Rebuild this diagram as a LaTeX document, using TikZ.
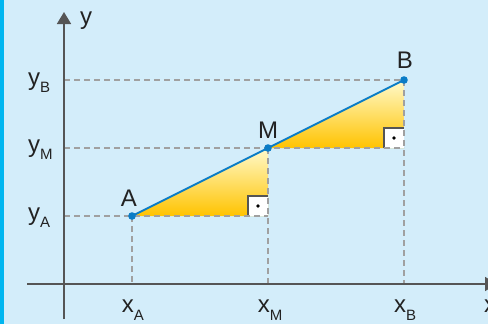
\documentclass[tikz,border=0pt]{standalone}
\usepackage{fontspec}
\setmainfont{Liberation Sans}
\usetikzlibrary{arrows.meta,calc}
\definecolor{bgblue}{HTML}{D3EDFA}
\definecolor{barblue}{HTML}{00B6F0}
\definecolor{axisgray}{HTML}{555555}
\definecolor{dashgray}{HTML}{A0A0A0}
\definecolor{segblue}{HTML}{0A7CC6}
\definecolor{ytop}{HTML}{FFFACC}
\definecolor{ymid}{HTML}{FFEE00}
\definecolor{ybot}{HTML}{FFC300}
\definecolor{txt}{HTML}{222222}
\newcommand{\mainsz}{\fontsize{24}{26}\selectfont}
\newcommand{\subsz}{\fontsize{15}{16}\selectfont}
\newcommand{\labsub}[3]{#1\raisebox{#3}{\subsz #2}}
\tikzset{
  dashline/.style={draw=dashgray, line width=1.6pt, dash pattern=on 6pt off 4pt},
  axisline/.style={draw=axisgray, line width=1.8pt, -{Triangle[length=12pt,width=14pt]}},
  segline/.style={draw=segblue, line width=2pt},
  ptdot/.style={fill=segblue},
  tri/.style={top color=ytop, middle color=ymid, bottom color=ybot},
  rabox/.style={fill=white},
  raline/.style={draw=axisgray, line width=1.4pt},
  lab/.style={inner sep=0pt, text=txt, font=\mainsz}
}
\begin{document}
\begin{tikzpicture}[x=1pt,y=-1pt]
\useasboundingbox (0,0) rectangle (488,324);
\clip (0,0) rectangle (488,324);
\fill[bgblue] (0,0) rectangle (488,324);
\fill[barblue] (0,0) rectangle (3.5,324);
% points
\coordinate (A) at (132,216);
\coordinate (M) at (268,148);
\coordinate (B) at (404,80);
\coordinate (CA) at (268,216);
\coordinate (CM) at (404,148);
\coordinate (YA) at (64,216);
\coordinate (YM) at (64,148);
\coordinate (YB) at (64,80);
\coordinate (XA) at (132,284);
\coordinate (XM) at (268,284);
\coordinate (XB) at (404,284);
\coordinate (O1) at (27,284);
\coordinate (O2) at (497,284);
\coordinate (Y1) at (64,319);
\coordinate (Y2) at (64,12);
% triangles
\shade[tri] (A) -- (M) -- (CA) -- cycle;
\shade[tri] (M) -- (B) -- (CM) -- cycle;
% right angle boxes
\fill[rabox] ($(CA)+(-20,-20)$) rectangle (CA);
\draw[raline] ($(CA)+(-20,0)$) -- ($(CA)+(-20,-20)$) -- ($(CA)+(0,-20)$);
\fill[black] ($(CA)+(-10,-10)$) circle (1.8);
\fill[rabox] ($(CM)+(-20,-20)$) rectangle (CM);
\draw[raline] ($(CM)+(-20,0)$) -- ($(CM)+(-20,-20)$) -- ($(CM)+(0,-20)$);
\fill[black] ($(CM)+(-10,-10)$) circle (1.8);
% dashed helper lines
\draw[dashline] (YB) -- (B);
\draw[dashline] (YM) -- (CM);
\draw[dashline] (YA) -- (CA);
\draw[dashline] (A) -- (XA);
\draw[dashline] (M) -- (XM);
\draw[dashline] (B) -- (XB);
% axes
\draw[axisline] (O1) -- (O2);
\draw[axisline] (Y1) -- (Y2);
% segment
\draw[segline] (A) -- (B);
\fill[ptdot] (A) circle (3.8);
\fill[ptdot] (M) circle (3.8);
\fill[ptdot] (B) circle (3.8);
% labels
\node[lab, anchor=base west] (ly) at (80,24) {y};
\node[lab, anchor=base west] (lx) at (484,312) {x};
\node[lab, anchor=base] (lA) at (129,206) {A};
\node[lab, anchor=base] (lM) at (268,138) {M};
\node[lab, anchor=base] (lB) at (405,68) {B};
\node[lab, anchor=base west] (lyB) at (28,85) {\labsub{y}{B}{-7pt}};
\node[lab, anchor=base west] (lyM) at (28,152) {\labsub{y}{M}{-7pt}};
\node[lab, anchor=base west] (lyA) at (28,220) {\labsub{y}{A}{-7pt}};
\node[lab, anchor=base] (lxA) at (133,312) {\labsub{x}{A}{-8pt}};
\node[lab, anchor=base] (lxM) at (270,312) {\labsub{x}{M}{-8pt}};
\node[lab, anchor=base] (lxB) at (405,312) {\labsub{x}{B}{-8pt}};
\end{tikzpicture}
\end{document}
